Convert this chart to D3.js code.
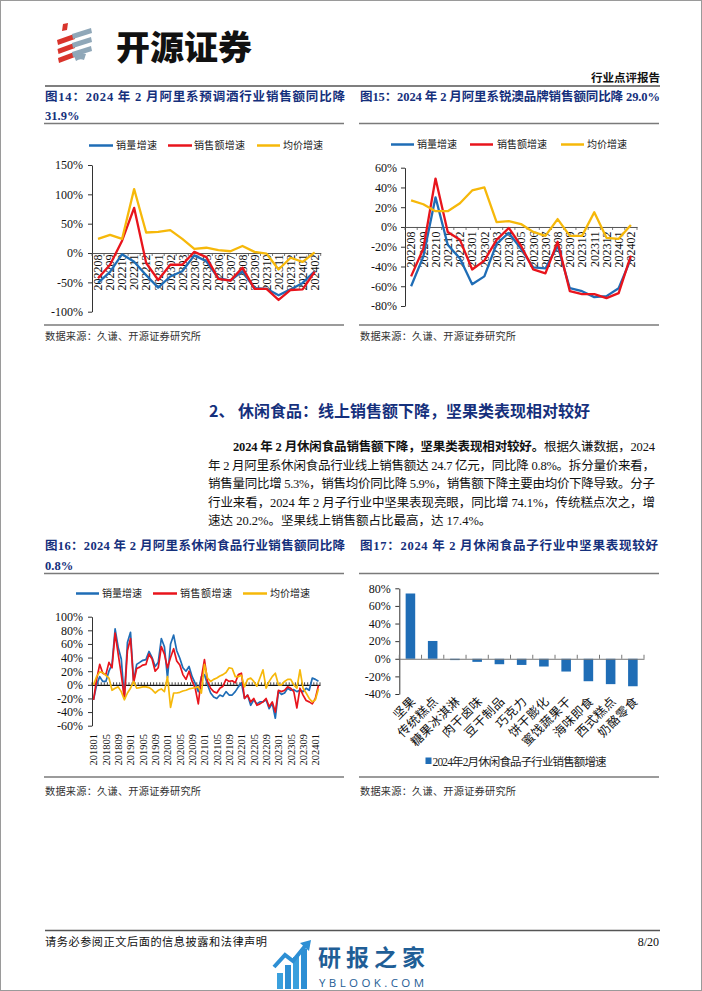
<!DOCTYPE html>
<html><head><meta charset="utf-8">
<script src="https://cdn.jsdelivr.net/npm/d3@7"></script>
<style>body{margin:0;background:#fff} svg{display:block}</style>
</head><body>
<svg id="page" width="702" height="991"></svg>
<script>
// ---------------- DATA ----------------
const months19 = ["202208","202209","202210","202211","202212","202301","202302","202303","202304","202305","202306","202307","202308","202309","202310","202311","202312","202401","202402"];

// Fig14 预调酒
const vol14   = [-51,-32,-2,-15,-38,-59,-40,-31,-4,-14,-43,-47,-31,-60,-61,-72,-62,-51,-31];
const amt14   = [-43,-20,21,77,-17,-46,-20,-20,2,-7,-44,-47,-25,-61,-61,-80,-63,-62,-31.9];
const price14 = [24,31,24,109,35,36,39,24,7,9,5,3,12,2,-1,-28,-8,-15,1];
const yTicks14 = [-100,-50,0,50,100,150];

// Fig15 锐澳
const vol15   = [-60,-30,30,-18,-32,-58,-50,-17,-6,-22,-41,-42,-19,-62,-65,-71,-70,-62,-32];
const amt15   = [-50,-22,49,-5,-13,-43,-34,-13,-1,-19,-43,-47,-15,-65,-68,-68,-72,-67,-29];
const price15 = [27,23,16,16,24,37,40,5,6,3,-5,-9,8,-9,-9,15,-11,-12,2];
const yTicks15 = [-80,-60,-40,-20,0,20,40,60];

// Fig16 休闲食品
const months74 = ["201801","201802","201803","201804","201805","201806","201807","201808","201809","201810","201811","201812",
"201901","201902","201903","201904","201905","201906","201907","201908","201909","201910","201911","201912",
"202001","202002","202003","202004","202005","202006","202007","202008","202009","202010","202011","202012",
"202101","202102","202103","202104","202105","202106","202107","202108","202109","202110","202111","202112",
"202201","202202","202203","202204","202205","202206","202207","202208","202209","202210","202211","202212",
"202301","202302","202303","202304","202305","202306","202307","202308","202309","202310","202311","202312",
"202401","202402"];
const vol16 = [-22,0,12,5,5,20,30,82,55,38,-20,62,
77,5,30,33,36,37,49,40,27,33,68,56,
10,60,73,50,39,25,20,27,12,2,-10,12,
15,0,-12,-18,-20,-15,-17,-10,-15,-15,-10,-3,
3,-20,-15,-30,-22,-28,-25,-25,-22,-35,-27,-49,
-10,-14,-12,-5,-8,-7,-10,-8,-10,-5,-8,10,
8,5.3];
const amt16 = [-22,8,30,17,15,33,25,76,45,15,-20,50,
68,3,24,26,29,30,45,38,20,25,56,45,
25,40,53,35,29,15,8,20,5,-5,-28,10,
37,5,-5,-10,-12,-5,-2,8,5,6,3,15,
17,-20,-15,-25,-20,-30,-28,-25,-20,-32,-25,-40,
-8,-10,-8,-3,-5,-10,-34,-5,-15,-23,-25,-28,
-20,-0.8];
const price16 = [0,12,19,18,14,10,-8,-5,-3,-10,-22,-12,
-5,5,-5,-4,-3,-3,-4,-7,-12,-8,-6,-10,
12,-33,-12,-12,-11,-9,-8,-6,-5,-4,-3,-12,
30,10,5,8,10,13,15,18,25,24,12,12,
14,-3,8,10,5,-2,10,22,-5,5,12,17,
0,0,5,8,8,0,-5,22,-5,-12,-20,-25,
-22,-5.9];
const yTicks16 = [-60,-40,-20,0,20,40,60,80,100];

// Fig17 子行业
const cats17 = ["坚果","传统糕点","糖果冰淇淋","肉干卤味","豆干制品","巧克力","饼干膨化","蜜饯蔬果干","海味即食","西式糕点","奶酪零食"];
const vals17 = [74.1,20.2,-1.5,-3.5,-6.2,-7.0,-8.8,-14.5,-25.5,-28.8,-31.2];
const yTicks17 = [-40,-20,0,20,40,60,80];

const legendNames = ["销量增速","销售额增速","均价增速"];

// ---------------- STYLE ----------------
const SERIF = "'Liberation Serif','Times New Roman','Noto Sans CJK SC',serif";
const CJK = "'Noto Sans CJK SC','Liberation Serif',sans-serif";
const NAVY = "#15307c";
const BLUE = "#1f6db6", RED = "#e8141c", YELLOW = "#f6b80a", BAR = "#1f6db6";
const LINECOL = "#7a7a7a";

const svg = d3.select("#page");

svg.append("rect").attr("x",0.5).attr("y",0.5).attr("width",701).attr("height",990)
  .attr("fill","none").attr("stroke","#9a9a9a").attr("stroke-width",1);

function txt(x,y,s,o={}){
  const t = svg.append("text").attr("x",x).attr("y",y).text(s)
    .attr("font-family",o.ff||SERIF).attr("font-size",o.fs||12)
    .attr("fill",o.fill||"#000").attr("font-weight",o.fw||"normal")
    .attr("text-anchor",o.anchor||"start");
  if(o.len){t.attr("textLength",o.len).attr("lengthAdjust","spacing");}
  return t;
}
function hline(x1,x2,y,col,w){
  svg.append("line").attr("x1",x1).attr("x2",x2).attr("y1",y).attr("y2",y)
    .attr("stroke",col).attr("stroke-width",w);
}

// ---------------- HEADER ----------------
const logo = svg.append("g");
logo.append("path").attr("d","M63,24 L68,23 L67,30 L62,31 Z").attr("fill","#d9342b");
[34,43,52].forEach((yy,k)=>{
  logo.append("path").attr("d",`M${57+k*0.5},${yy+6} L74,${yy} L75,${yy+5} L${58+k*0.5},${yy+11} Z`).attr("fill","#d9342b");
});
[29,38,47].forEach(yy=>{
  logo.append("path").attr("d",`M72,${yy+5} L91,${yy-1} L92,${yy+4} L73,${yy+10} Z`).attr("fill","#8fa7b8");
});
logo.append("path").attr("d","M74,56 Q80,52 86,54 L84,60 Q80,58 76,61 Z").attr("fill","#8fa7b8");
txt(116,60,"开源证券",{ff:CJK,fs:34,fw:"900",fill:"#111"});

txt(660,82,"行业点评报告",{ff:CJK,fs:11.5,fw:"bold",anchor:"end",fill:"#111"});
hline(45,660,86,"#555",1.6);

// ---------------- TITLES ----------------
txt(45,101,"图14：2024 年 2 月阿里系预调酒行业销售额同比降",{ff:SERIF,fs:12.5,fw:"bold",fill:NAVY,len:300});
txt(45,120,"31.9%",{ff:SERIF,fs:12.5,fw:"bold",fill:NAVY});
txt(360,101,"图15：2024 年 2 月阿里系锐澳品牌销售额同比降 29.0%",{ff:SERIF,fs:12.5,fw:"bold",fill:NAVY,len:300});
hline(44,344,123.5,LINECOL,1.3);
hline(359,659,123.5,LINECOL,1.3);
hline(44,344,325,LINECOL,1.3);
hline(359,659,325,LINECOL,1.3);
txt(45,340,"数据来源：久谦、开源证券研究所",{ff:CJK,fs:10.2,fill:"#333",len:156});
txt(360,340,"数据来源：久谦、开源证券研究所",{ff:CJK,fs:10.2,fill:"#333",len:156});

txt(209,417,"2、 休闲食品：线上销售额下降，坚果类表现相对较好",{ff:CJK,fs:16,fw:"bold",fill:NAVY});

const para = [
  {x:233,y:451,len:422,parts:[["2024 年 2 月休闲食品销售额下降，坚果类表现相对较好。","bold"],["根据久谦数据，2024","normal"]]},
  {x:208,y:469.5,len:447,parts:[["年 2 月阿里系休闲食品行业线上销售额达 24.7 亿元，同比降 0.8%。拆分量价来看，","normal"]]},
  {x:208,y:488,len:447,parts:[["销售量同比增 5.3%，销售均价同比降 5.9%，销售额下降主要由均价下降导致。分子","normal"]]},
  {x:208,y:506.5,len:447,parts:[["行业来看，2024 年 2 月子行业中坚果表现亮眼，同比增 74.1%，传统糕点次之，增","normal"]]},
  {x:208,y:525,len:null,parts:[["速达 20.2%。坚果线上销售额占比最高，达 17.4%。","normal"]]}
];
para.forEach(p=>{
  const t = svg.append("text").attr("x",p.x).attr("y",p.y).attr("font-family",SERIF).attr("font-size",12.5).attr("fill","#111");
  p.parts.forEach(([s,w])=>t.append("tspan").text(s).attr("font-weight",w));
  if(p.len) t.attr("textLength",p.len).attr("lengthAdjust","spacing");
});

txt(45,550,"图16：2024 年 2 月阿里系休闲食品行业销售额同比降",{ff:SERIF,fs:12.5,fw:"bold",fill:NAVY,len:300});
txt(45,569.5,"0.8%",{ff:SERIF,fs:12.5,fw:"bold",fill:NAVY});
txt(360,550,"图17：2024 年 2 月休闲食品子行业中坚果表现较好",{ff:SERIF,fs:12.5,fw:"bold",fill:NAVY,len:298});
hline(44,344,573.5,LINECOL,1.3);
hline(359,659,573.5,LINECOL,1.3);
hline(44,344,777,LINECOL,1.3);
hline(359,659,777,LINECOL,1.3);
txt(45,795,"数据来源：久谦、开源证券研究所",{ff:CJK,fs:10.2,fill:"#333",len:156});
txt(360,795,"数据来源：久谦、开源证券研究所",{ff:CJK,fs:10.2,fill:"#333",len:156});

// ---------------- LINE CHARTS ----------------
function legend(items, y){
  const cols=[BLUE,RED,YELLOW];
  items.forEach((it,k)=>{
    svg.append("line").attr("x1",it[0]).attr("x2",it[1]).attr("y1",y).attr("y2",y)
      .attr("stroke",cols[k]).attr("stroke-width",2.5);
    txt(it[2],y+3.6,legendNames[k],{ff:CJK,fs:10,fill:"#222",len:it[3]});
  });
}

function lineChart(o){
  const g = svg.append("g");
  const x = d3.scaleBand().domain(o.cats).range([o.x0,o.x1]);
  const y = d3.scaleLinear().domain(o.yDomain).range([o.yBottom,o.yTop]);
  const y0 = y(0);
  const ya = g.append("g").attr("transform",`translate(${o.x0},0)`)
    .call(d3.axisLeft(y).tickValues(o.yTicks).tickFormat(d=>d+"%").tickSize(4).tickSizeOuter(0).tickPadding(o.pad||4));
  ya.select(".domain").attr("stroke","#333").attr("stroke-width",1);
  ya.selectAll(".tick line").attr("stroke","#333");
  ya.selectAll(".tick text").attr("font-family",SERIF).attr("font-size",o.yFont||12).attr("fill","#111");
  const xa = g.append("g").attr("transform",`translate(0,${y0})`)
    .call(d3.axisBottom(x).tickSize(0).tickFormat(""));
  xa.select(".domain").attr("stroke",o.zeroCol||"#555").attr("stroke-width",o.zeroW||1);
  const bounds = d3.range(o.cats.length+1).map(k=>o.x0 + k*x.step());
  g.selectAll(".bt").data(bounds).join("line")
    .attr("x1",d=>d).attr("x2",d=>d).attr("y1",y0).attr("y2",y0+(o.tickDir||3))
    .attr("stroke",o.zeroCol||"#555").attr("stroke-width",0.8);
  const lblY = o.labelY!=null ? o.labelY : y0+3;
  g.selectAll(".xl").data(o.cats.filter((c,i)=>i%(o.every||1)===0)).join("text")
    .attr("transform",d=>`translate(${x(d)+x.bandwidth()/2+o.xFont*0.36},${lblY}) rotate(-90)`)
    .attr("text-anchor","end").attr("font-family",SERIF).attr("font-size",o.xFont).attr("fill","#111")
    .text(d=>d);
  const cols=[BLUE,RED,YELLOW];
  o.series.forEach((s,k)=>{
    const line = d3.line().x((d,i)=>x(o.cats[i])+x.bandwidth()/2).y(d=>y(d));
    g.append("path").datum(s).attr("d",line).attr("fill","none")
      .attr("stroke",cols[k]).attr("stroke-width",o.lw||2).attr("stroke-linejoin","round");
  });
}

legend([[89,113,116,41],[168,192,194,51],[257,280,283,40]],145.5);
lineChart({cats:months19,x0:92,x1:320.7,yTop:165,yBottom:311.7,yDomain:[-100,150],yTicks:yTicks14,
  series:[vol14,amt14,price14],xFont:12,labelY:254.5,pad:5,tickDir:3,lw:2.3});
legend([[391,414,417,40],[470,493,497,50],[561,584,587,40]],144.5);
lineChart({cats:months19,x0:405,x1:637,yTop:167.7,yBottom:306,yDomain:[-80,60],yTicks:yTicks15,
  series:[vol15,amt15,price15],xFont:12,labelY:231.5,pad:4,tickDir:3,lw:2.3});
legend([[76,99,102,40],[153,177,180,52],[243,267,270,40]],593.5);
lineChart({cats:months74,x0:92,x1:320,yTop:616.7,yBottom:725.7,yDomain:[-60,100],yTicks:yTicks16,
  series:[vol16,amt16,price16],xFont:10.5,labelY:734,every:4,pad:5,tickDir:-2.5,zeroCol:"#111",zeroW:1.2,lw:1.7});

// ---------------- BAR CHART (Fig17) ----------------
(function(){
  const g = svg.append("g");
  const x = d3.scaleBand().domain(cats17).range([399.3,644]).paddingInner(0.57).paddingOuter(0.285);
  const y = d3.scaleLinear().domain([-40,80]).range([694,588.3]);
  const ya = g.append("g").attr("transform","translate(399.3,0)")
    .call(d3.axisLeft(y).tickValues(yTicks17).tickFormat(d=>d+"%").tickSize(4).tickSizeOuter(0).tickPadding(4.5));
  ya.select(".domain").attr("stroke","#333");
  ya.selectAll(".tick line").attr("stroke","#333");
  ya.selectAll(".tick text").attr("font-family",SERIF).attr("font-size",12).attr("fill","#111");
  g.selectAll(".bar").data(cats17).join("rect")
    .attr("x",d=>x(d)).attr("width",x.bandwidth())
    .attr("y",(d,i)=>y(Math.max(0,vals17[i]))).attr("height",(d,i)=>Math.abs(y(vals17[i])-y(0)))
    .attr("fill",BAR);
  const xa = g.append("g").attr("transform",`translate(0,${y(0)})`).call(d3.axisBottom(x).tickSize(0).tickFormat(""));
  xa.select(".domain").attr("stroke","#777");
  const step = x.step();
  g.selectAll(".bt").data(d3.range(cats17.length+1)).join("line")
    .attr("x1",k=>399.3+k*step).attr("x2",k=>399.3+k*step).attr("y1",y(0)-4).attr("y2",y(0))
    .attr("stroke","#777");
  g.selectAll(".cl").data(cats17).join("text")
    .attr("transform",d=>`translate(${x(d)+x.bandwidth()/2+6},${702}) rotate(-45)`)
    .attr("text-anchor","end").attr("font-family",CJK).attr("font-size",12.3).attr("fill","#111")
    .attr("letter-spacing",0.4)
    .text(d=>d);
  g.append("rect").attr("x",425.5).attr("y",757.5).attr("width",6).attr("height",6.5).attr("fill",BAR);
  txt(432.5,765.5,"2024年2月休闲食品子行业销售额增速",{ff:SERIF,fs:11.5,fill:"#222",len:174});
})();

// ---------------- FOOTER ----------------
hline(45,660,930.5,"#555",1.6);
txt(45,946,"请务必参阅正文后面的信息披露和法律声明",{ff:CJK,fs:11.2,fill:"#111",len:222});
txt(659,946,"8/20",{ff:SERIF,fs:12,fill:"#111",anchor:"end"});

const wm = svg.append("g");
[[277,973,6],[285,965,6],[293,957,6],[301,949,6]].forEach(([bx,by,bw],k)=>{
  wm.append("rect").attr("x",bx).attr("y",by).attr("width",bw).attr("height",989-by)
    .attr("fill",k%2? "#2d8fd4":"#3aa0dd");
});
wm.append("path").attr("d","M274,967 L285,955 L293,961 L306,945").attr("fill","none")
  .attr("stroke","#2d8fd4").attr("stroke-width",4);
wm.append("path").attr("d","M300,943 L311,940 L309,951 Z").attr("fill","#2d8fd4");
txt(318,966,"研报之家",{ff:CJK,fs:23,fw:"bold",fill:"#1f5e96",len:107});
txt(319,987,"YBLOOK.COM",{ff:"'Open Sans','DejaVu Sans',sans-serif",fs:11.5,fill:"#1f5e96",len:105});
</script>
</body></html>
